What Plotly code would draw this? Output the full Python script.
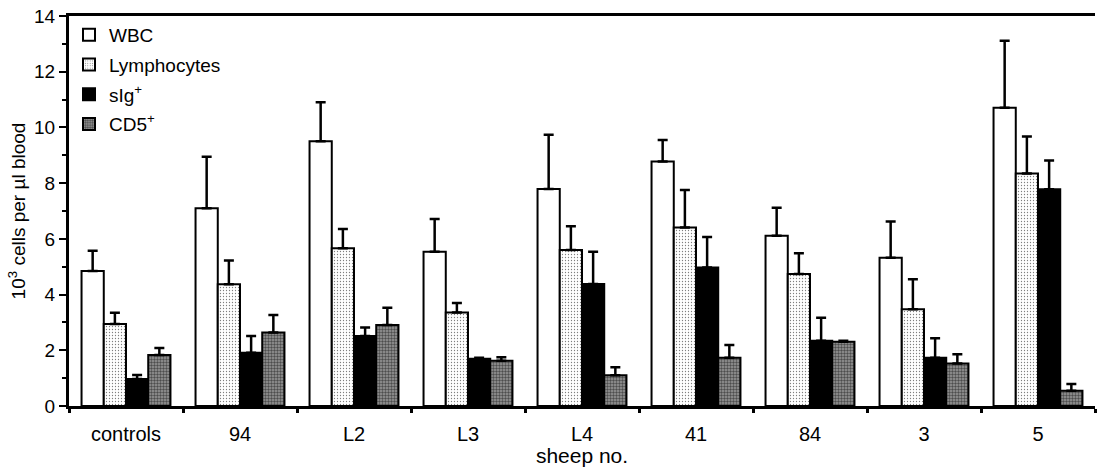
import plotly.graph_objects as go

sheep = ["controls", "94", "L2", "L3", "L4", "41", "84", "3", "5"]

wbc = [4.85, 7.10, 9.50, 5.54, 7.79, 8.78, 6.11, 5.32, 10.71]
wbc_err = [0.72, 1.85, 1.40, 1.17, 1.95, 0.77, 1.01, 1.30, 2.40]

lymph = [2.94, 4.37, 5.66, 3.36, 5.60, 6.41, 4.74, 3.47, 8.35]
lymph_err = [0.41, 0.85, 0.69, 0.34, 0.85, 1.34, 0.74, 1.08, 1.32]

sig = [0.97, 1.91, 2.51, 1.70, 4.38, 4.97, 2.34, 1.73, 7.78]
sig_err = [0.14, 0.60, 0.31, 0.03, 1.16, 1.10, 0.83, 0.70, 1.03]

cd5 = [1.83, 2.64, 2.91, 1.62, 1.10, 1.73, 2.31, 1.53, 0.55]
cd5_err = [0.25, 0.63, 0.62, 0.13, 0.29, 0.46, 0.03, 0.33, 0.24]

series_names = ["WBC", "Lymphocytes", "sIg<sup>+</sup>", "CD5<sup>+</sup>"]

FONT = "Liberation Sans, Arial, sans-serif"

styles = [
    dict(color="white"),
    dict(color="white", pattern=dict(shape=".", fgcolor="black", bgcolor="white", size=3, solidity=0.15)),
    dict(color="black"),
    dict(color="#999999", pattern=dict(shape=".", fgcolor="black", bgcolor="#9a9a9a", size=3, solidity=0.5)),
]

fig = go.Figure()
for i, (name, vals, errs, st) in enumerate(zip(series_names, [wbc, lymph, sig, cd5],
                                [wbc_err, lymph_err, sig_err, cd5_err], styles)):
    fig.add_trace(go.Bar(
        x=sheep, y=vals, name=name, legendgroup=f"g{i}",
        marker=dict(**st, line=dict(color="black", width=2)),
        error_y=dict(type="data", array=errs, arrayminus=[0] * len(errs),
                     symmetric=False, color="black", thickness=2.5, width=5),
    ))

fig.update_layout(
    width=1099, height=467,
    margin=dict(l=69, r=4, t=16, b=61, autoexpand=False),
    paper_bgcolor="white", plot_bgcolor="white",
    barmode="group", bargap=0.22, bargroupgap=0,
    font=dict(family=FONT, size=19, color="black"),
    showlegend=True,
    legend=dict(x=0.0, y=1.0, xanchor="left", yanchor="top",
                bgcolor="rgba(0,0,0,0)", font=dict(size=19),
                tracegroupgap=2, itemsizing="constant"),
)

fig.update_xaxes(
    type="category",
    showline=True, linecolor="black", linewidth=3, mirror=True,
    ticks="outside", tickson="boundaries", ticklen=4, tickwidth=3, tickcolor="black",
    tickfont=dict(size=20), ticklabelstandoff=8,
    title=dict(text="sheep no.", font=dict(size=21), standoff=4),
    showgrid=False, automargin=False,
)

fig.update_yaxes(
    range=[0, 14], dtick=2,
    showline=True, linecolor="black", linewidth=3,
    ticks="outside", ticklen=7, tickwidth=2, tickcolor="black",
    minor=dict(dtick=1, ticks="outside", ticklen=4, tickwidth=2, tickcolor="black"),
    tickfont=dict(size=19),
    title=dict(text="10<sup>3</sup> cells per µl blood", font=dict(size=19), standoff=4),
    showgrid=False, zeroline=False, automargin=False,
)

fig.write_html("out.html", config={"displayModeBar": False},
               post_script="document.body.style.margin='0';")
